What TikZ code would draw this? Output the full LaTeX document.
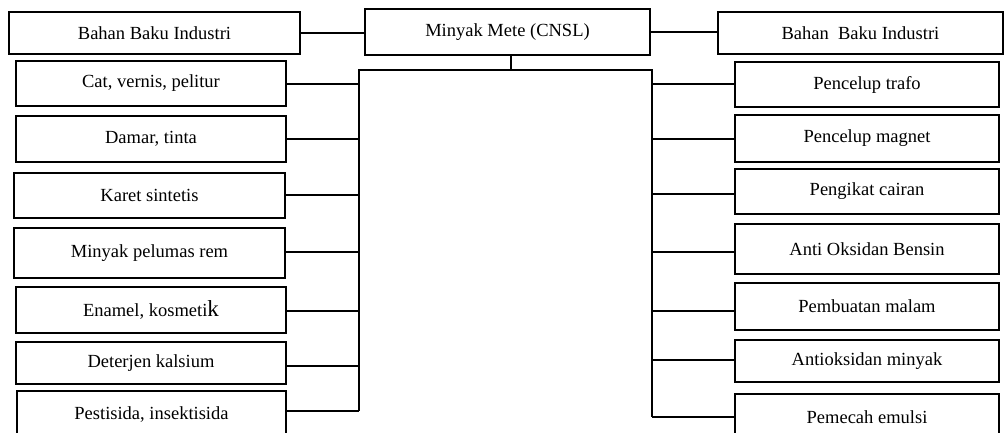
\documentclass[tikz,border=0pt]{standalone}
\usepackage{fontspec}
\setmainfont{Liberation Serif}
\begin{document}
\begin{tikzpicture}[x=1pt,y=-1pt,
  box/.style={draw, line width=1.6pt, inner sep=0pt, font=\fontsize{18.5}{21}\selectfont},
  lbox/.style={box, minimum width=270pt},
  rbox/.style={box, minimum width=264pt},
  ln/.style={line width=1.6pt}]
\useasboundingbox (0,0) rectangle (1004,432);
% top row
\node[box, minimum width=291pt, minimum height=42pt] (L0) at (154.5,33) {Bahan Baku Industri};
\node[box, minimum width=285pt, minimum height=46pt] (C) at (507.5,32) {Minyak Mete (CNSL)};
\node[box, minimum width=285pt, minimum height=42pt] (R0) at (860.5,33) {Bahan\ \ Baku Industri};
\draw[ln] (L0.east) -- (L0.east -| C.west);
\draw[ln] (C.east) -- (C.east -| R0.west);
% buses
\coordinate (busL) at (359,70);
\coordinate (busLb) at (359,411);
\coordinate (busR) at (652,70);
\coordinate (busRb) at (652,417);
\draw[ln] (busLb) -- (busL) -- (busR) -- (busRb);
\draw[ln] ([xshift=3.5pt]C.south) -- ([xshift=3.5pt]C.south |- busL);
% left boxes
\node[lbox, minimum height=45pt] (L1) at (151,83.5) {Cat, vernis, pelitur};
\node[lbox, minimum height=46pt] (L2) at (151,139) {Damar, tinta};
\node[lbox, minimum height=45pt, minimum width=271pt] (L3) at (149.5,195.5) {Karet sintetis};
\node[lbox, minimum height=50pt, minimum width=271pt] (L4) at (149.5,253) {Minyak pelumas rem};
\node[lbox, minimum height=46pt] (L5) at (151,310) {Enamel, kosmeti{\fontsize{23}{24}\selectfont k}};
\node[lbox, minimum height=42pt] (L6) at (151,363) {Deterjen kalsium};
\node[lbox, minimum height=46pt, minimum width=269pt] (L7) at (151.5,414) {Pestisida, insektisida};
\foreach \n/\s in {L1/-0.5,L2/0,L3/0.5,L4/1,L5/-1,L6/-3,L7/3}
  \draw[ln] ([yshift=\s pt]\n.east) -- ([yshift=\s pt]\n.east -| busL);
% right boxes
\node[rbox, minimum height=45pt] (R1) at (867,84.5) {Pencelup trafo};
\node[rbox, minimum height=47pt] (R2) at (867,138.5) {Pencelup magnet};
\node[rbox, minimum height=45pt] (R3) at (867,191.5) {Pengikat cairan};
\node[rbox, minimum height=50pt] (R4) at (867,249) {Anti Oksidan Bensin};
\node[rbox, minimum height=47pt] (R5) at (867,306.5) {Pembuatan malam};
\node[rbox, minimum height=42pt] (R6) at (867,361) {Antioksidan minyak};
\node[rbox, minimum height=46pt] (R7) at (867,417) {Pemecah emulsi};
\foreach \n/\s in {R1/0.5,R2/-0.5,R3/-2.5,R4/-3,R5/-4.5,R6/1,R7/0}
  \draw[ln] ([yshift=\s pt]\n.west) -- ([yshift=\s pt]\n.west -| busR);
\end{tikzpicture}
\end{document}
